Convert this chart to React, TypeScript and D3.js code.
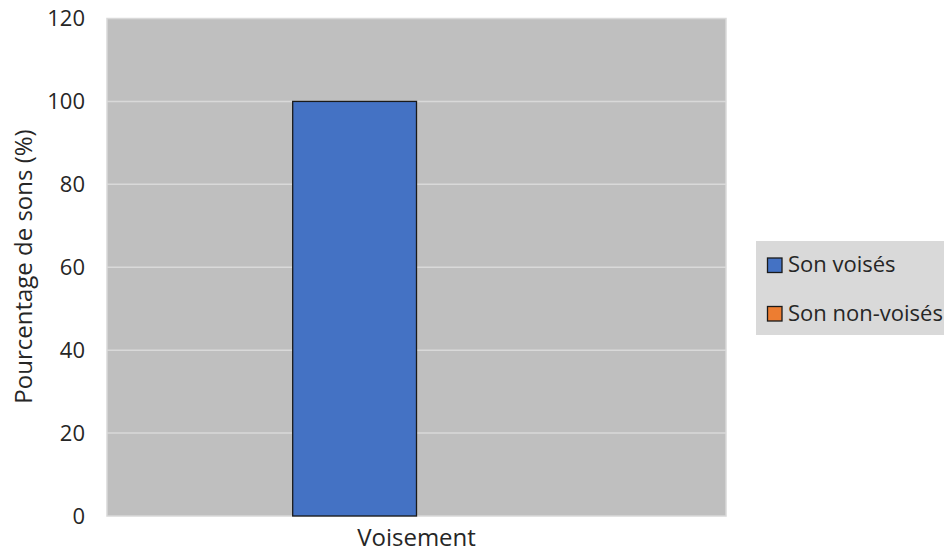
import React from "react";
import * as d3 from "d3";

const categories = ["Voisement"];
const seriesNames = ["Son voisés", "Son non-voisés"];
const seriesColors = ["#4472C4", "#ED7D31"];
const voisesValues = [100];
const nonVoisesValues = [0];
const yTicks = [0, 20, 40, 60, 80, 100, 120];
const yLabel = "Pourcentage de sons (%)";

export default function App() {
  const W = 944, H = 552;
  const plot = { left: 107, right: 726, top: 18.5, bottom: 516 };
  const font = "'Open Sans', sans-serif";

  const x0 = d3.scaleBand<string>().domain(categories).range([plot.left, plot.right]).paddingInner(0).paddingOuter(0);
  const series = [voisesValues, nonVoisesValues];
  const bw = x0.bandwidth();
  // gap width 300% of a bar: band = 2 bars + 3 bars of gap
  const barW = bw / (series.length + 3);
  const x1 = d3.scaleBand<number>().domain(series.map((_, i) => i)).range([0, barW * series.length]);
  const y = d3.scaleLinear().domain([0, 120]).range([plot.bottom, plot.top]);

  return (
    <svg width={W} height={H} style={{ position: "absolute", left: 0, top: 0 }} fontFamily={font}>
      <rect x={0} y={0} width={W} height={H} fill="#ffffff" />
      <rect x={plot.left} y={plot.top} width={plot.right - plot.left} height={plot.bottom - plot.top} fill="#BFBFBF" stroke="#D9D9D9" strokeWidth={1.5} />
      {yTicks.slice(1, -1).map((t) => (
        <line key={t} x1={plot.left} x2={plot.right} y1={y(t)} y2={y(t)} stroke="#D9D9D9" strokeWidth={1.5} />
      ))}
      {yTicks.map((t) => (
        <text key={t} x={85} y={y(t)} dy="0.36em" textAnchor="end" fontSize={22} fill="#262626">{t}</text>
      ))}
      {categories.map((c, ci) => {
        const start = (x0(c) as number) + (bw - barW * series.length) / 2;
        return (
          <g key={c}>
            {series.map((vals, si) => {
              const v = vals[ci];
              return (
                <rect key={si} x={start + (x1(si) as number)} y={y(v)} width={x1.bandwidth()} height={y(0) - y(v)}
                  fill={seriesColors[si]} stroke="#1a1a1a" strokeWidth={1.3} />
              );
            })}
            <text x={(x0(c) as number) + bw / 2} y={546} textAnchor="middle" fontSize={24} fill="#262626">{c}</text>
          </g>
        );
      })}
      <text transform={`translate(32,${266.5}) rotate(-90)`} textAnchor="middle" fontSize={24} fill="#262626">{yLabel}</text>
      <rect x={756} y={241} width={W - 756} height={94} fill="#D9D9D9" />
      {seriesNames.map((n, i) => (
        <g key={n}>
          <rect x={767.5} y={258 + i * 48.5} width={14.5} height={14.5} fill={seriesColors[i]} stroke="#1a1a1a" strokeWidth={1.3} />
          <text x={788} y={271.5 + i * 49} fontSize={22} fill="#262626">{n}</text>
        </g>
      ))}
    </svg>
  );
}
